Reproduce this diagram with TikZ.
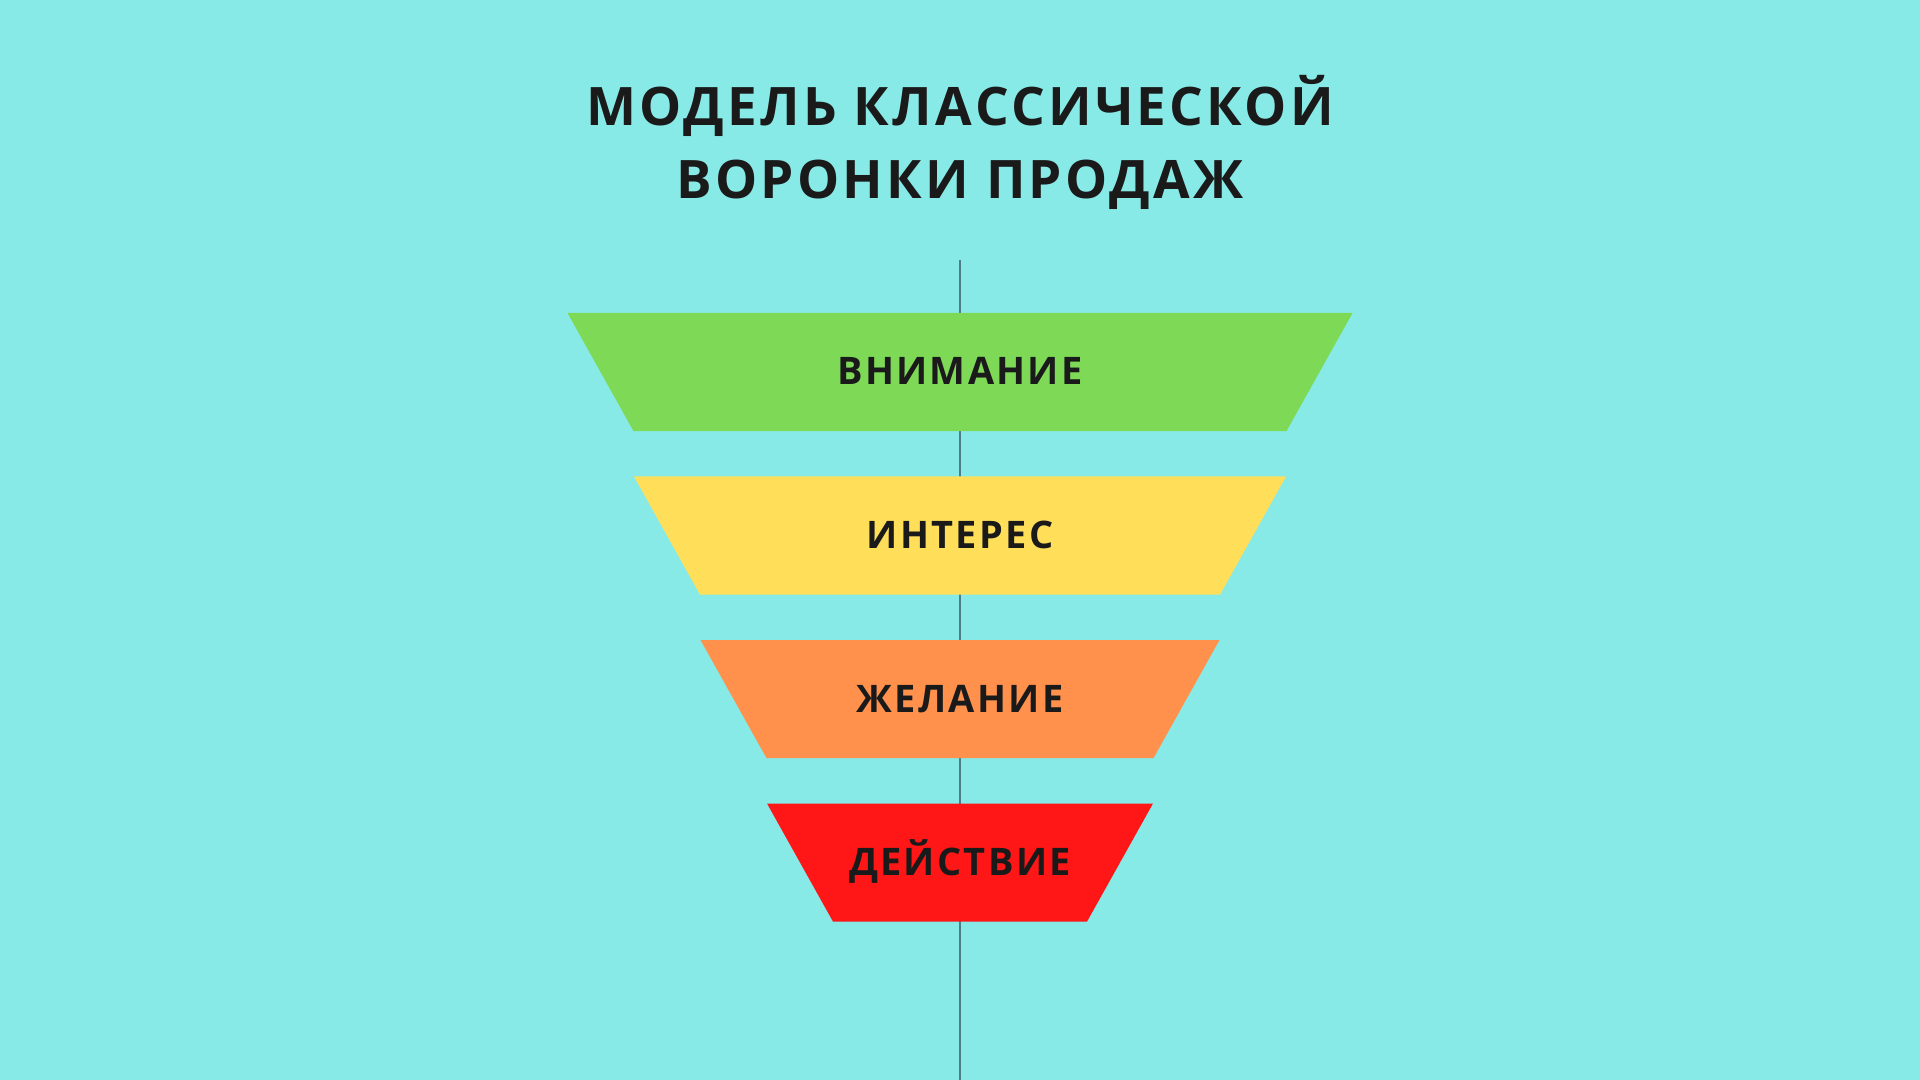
\documentclass[tikz,border=0pt]{standalone}
\usepackage{fontspec}
\setmainfont{Open Sans}
\newfontfamily\funnelfont{Open Sans}[LetterSpace=6]
\usepackage{tikz}
\usetikzlibrary{positioning, calc}
\usetikzlibrary{shapes.geometric}

\begin{document}
\begin{tikzpicture}[font=\funnelfont\bfseries, align=center, line width=0.4pt,
    stage/.style={trapezium, shape border rotate=180, trapezium angle=60.8,
        trapezium stretches body=true, text height=0.72cm, text depth=0.46cm, inner sep=0pt,
        outer sep=0pt, text=textdark, font=\funnelfont\bfseries\fontsize{10.8}{12}\selectfont}]
        % Define colors
        \definecolor{backcyan}{HTML}{88EAE7}
        \definecolor{stagegreen}{HTML}{7ED957}
        \definecolor{stageyellow}{HTML}{FFDE59}
        \definecolor{stageorange}{HTML}{FF914D}
        \definecolor{stagered}{HTML}{FF1616}
        \definecolor{textdark}{HTML}{1A1A1A}
        \definecolor{axisgray}{HTML}{4F7F86}

        % Background
        \fill[backcyan] (0,0) rectangle (19.2,-10.8);
        \useasboundingbox (0,0) rectangle (19.2,-10.8);

        % Title
        \node[text=textdark, font=\funnelfont\bfseries\fontsize{15.1}{21}\selectfont, anchor=base] (title) at (9.6,-1.99)
            {МОДЕЛЬ КЛАССИЧЕСКОЙ\\ВОРОНКИ ПРОДАЖ};

        % Axis
        \coordinate (axistop) at (9.6,-2.6);
        \coordinate (axisbottom) at (9.6,-10.8);
        \draw[axisgray] (axistop) -- (axisbottom);

        % Stages
        \node[stage, fill=stagegreen, minimum width=7.85cm] (attention) at (9.6,-3.72) {ВНИМАНИЕ};
        \node[stage, fill=stageyellow, minimum width=6.52cm] (interest) at (9.6,-5.355) {ИНТЕРЕС};
        \node[stage, fill=stageorange, minimum width=5.19cm] (desire) at (9.6,-6.99) {ЖЕЛАНИЕ};
        \node[stage, fill=stagered, minimum width=3.86cm] (action) at (9.6,-8.625) {ДЕЙСТВИЕ};
    \end{tikzpicture}
\end{document}
